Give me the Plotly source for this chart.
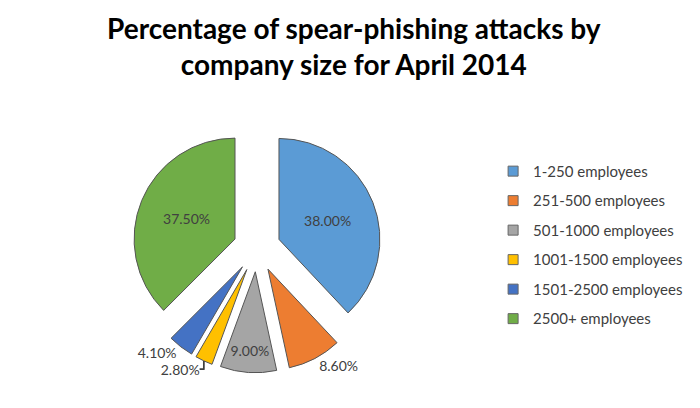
import plotly.graph_objects as go

labels = ['1-250 employees', '251-500 employees', '501-1000 employees',
          '1001-1500 employees', '1501-2500 employees', '2500+ employees']
shares = [38.0, 8.6, 9.0, 2.8, 4.1, 37.5]
colors = ['#5B9BD5', '#ED7D31', '#A5A5A5', '#FFC000', '#4472C4', '#70AD47']

fig = go.Figure()

fig.add_trace(go.Pie(
    labels=labels,
    values=shares,
    sort=False,
    direction='clockwise',
    rotation=0,
    pull=0.235,
    marker=dict(colors=colors, line=dict(color='#555555', width=1)),
    texttemplate='%{value:.2f}%',
    textposition=['inside', 'outside', 'inside', 'outside', 'outside', 'inside'],
    insidetextorientation='horizontal',
    textfont=dict(family='Lato', size=14, color='#404040'),
    showlegend=False,
    hoverinfo='label+value',
    automargin=False,
    domain=dict(x=[0.1774, 0.5338], y=[0.106, 0.717]),
))

# legend entries as separate groups so the gap between them can be set
for name, c in zip(labels, colors):
    fig.add_trace(go.Scatter(
        x=[None], y=[None], mode='markers', name=name, legendgroup=name,
        marker=dict(symbol='square', size=10, color=c,
                    line=dict(color='#666666', width=1)),
    ))

fig.update_layout(
    width=700, height=408,
    margin=dict(l=0, r=0, t=0, b=0),
    paper_bgcolor='white', plot_bgcolor='white',
    title=dict(
        text='Percentage of spear-phishing attacks by<br>company size for April 2014',
        x=0.494, xanchor='center', y=0.925, yanchor='top',
        font=dict(family='Lato', size=28, color='black', weight='bold'),
    ),
    xaxis=dict(visible=False), yaxis=dict(visible=False),
    legend=dict(
        x=0.693, y=0.64, xanchor='left', yanchor='top',
        font=dict(family='Lato', size=15, color='#404040'),
        tracegroupgap=7, itemwidth=30,
    ),
)

fig.write_html("out.html")
